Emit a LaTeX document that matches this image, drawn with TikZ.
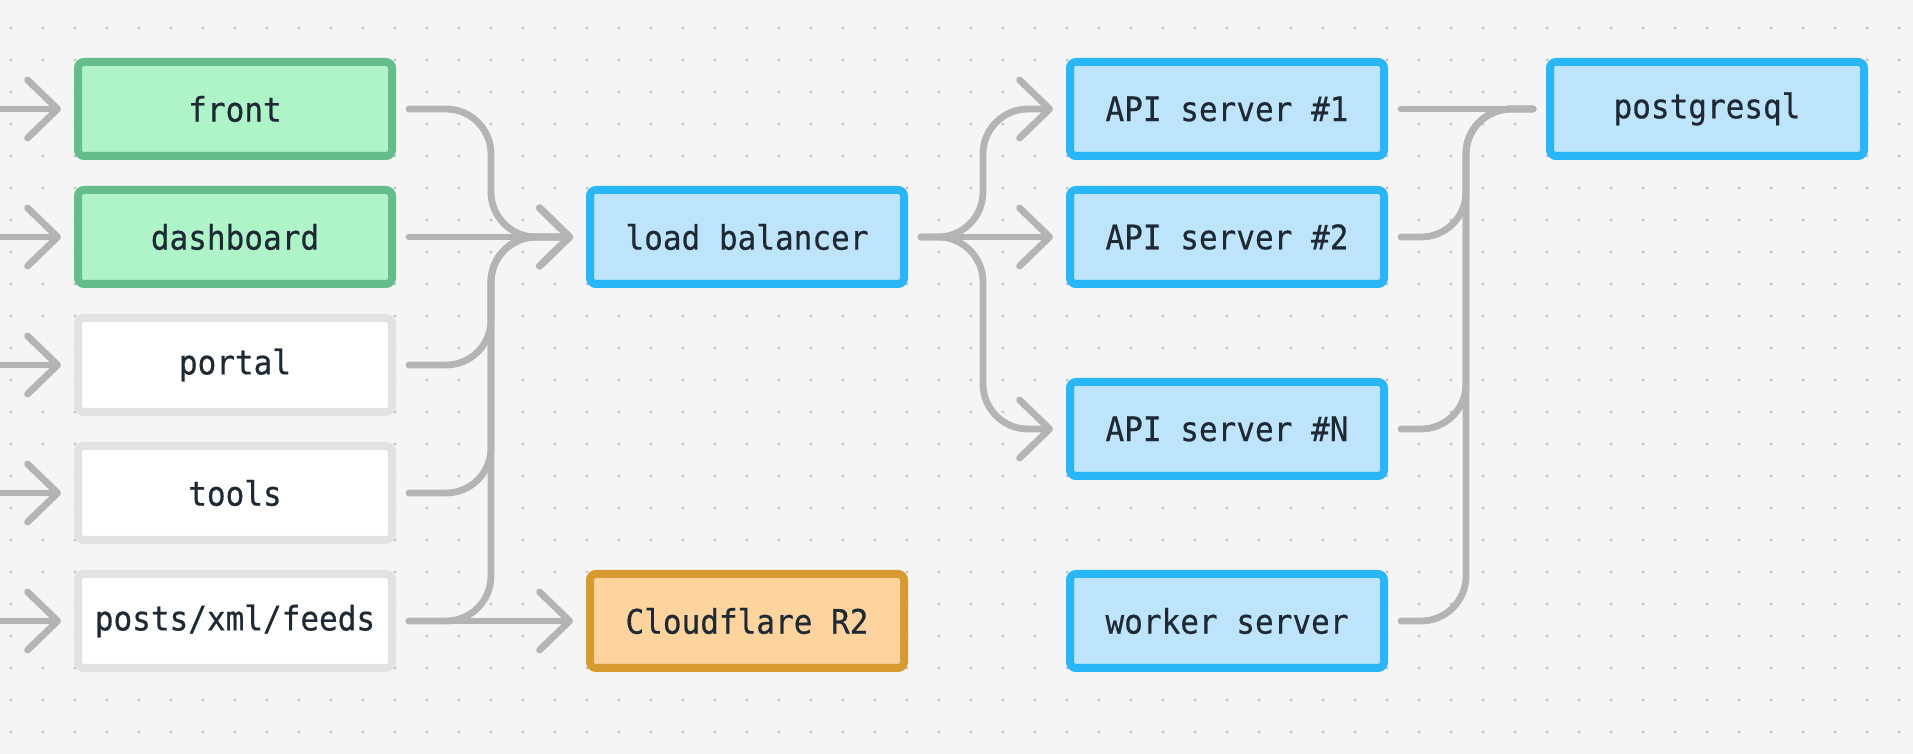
\documentclass[tikz,border=0pt]{standalone}
\usepackage{fontspec}
\usetikzlibrary{arrows.meta}
\newfontfamily\boxfont[FakeStretch=0.92, FakeBold=0.5]{DejaVu Sans Mono}

\definecolor{bgpaper}{HTML}{F5F5F5}
\definecolor{dotgray}{HTML}{C4C4C4}
\definecolor{wiregray}{HTML}{B4B4B4}
\definecolor{greenfill}{HTML}{AFF3C9}
\definecolor{greenedge}{HTML}{66BD8C}
\definecolor{bluefill}{HTML}{BDE4FB}
\definecolor{blueedge}{HTML}{29B6F6}
\definecolor{orangefill}{HTML}{FDD39E}
\definecolor{orangeedge}{HTML}{D69A30}
\definecolor{plainedge}{HTML}{E2E2E2}
\definecolor{inkdark}{HTML}{1E2933}

\begin{document}
\begin{tikzpicture}[
    >={Straight Barb[length=0.3cm, width=0.58cm, round]},
    box/.style={rectangle, rounded corners=0.06cm, line width=0.08cm,
        minimum width=3.14cm, minimum height=0.94cm, outer sep=0.17cm,
        font=\boxfont\fontsize{9.6}{11}\selectfont, text=inkdark},
    greenbox/.style={box, fill=greenfill, draw=greenedge},
    bluebox/.style={box, fill=bluefill, draw=blueedge},
    orangebox/.style={box, fill=orangefill, draw=orangeedge},
    plainbox/.style={box, fill=white, draw=plainedge},
    link/.style={draw=wiregray, line width=0.068cm, line cap=round, rounded corners=0.45cm},
]

%--- Coordinates ---
\def\colA{2.35}   % clients column
\def\colB{7.47}   % load balancer / storage column
\def\colC{12.27}  % servers column
\def\colD{17.07}  % database column
\def\rowA{-1.09}
\def\rowB{-2.37}
\def\rowC{-3.65}
\def\rowD{-4.93}
\def\rowE{-6.21}
\def\rowN{-4.29}  % last API server sits between rows

%--- Paper with dot grid ---
\useasboundingbox (0,0) rectangle (19.13,-7.54);
\fill[bgpaper] (0,0) rectangle (19.13,-7.54);
\foreach \i in {0,...,59}
  \foreach \j in {0,...,22}
    \fill[dotgray] (0.11+0.32*\i, -0.28-0.32*\j) circle (0.017);

%--- Clients ---
\node[greenbox] (front)     at (\colA, \rowA) {front};
\node[greenbox] (dashboard) at (\colA, \rowB) {dashboard};
\node[plainbox] (portal)    at (\colA, \rowC) {portal};
\node[plainbox] (tools)     at (\colA, \rowD) {tools};
\node[plainbox] (posts)     at (\colA, \rowE) {posts/xml/feeds};

%--- Middle column ---
\node[bluebox]   (lb)    at (\colB, \rowB) {load balancer};
\node[orangebox] (cloud) at (\colB, \rowE) {Cloudflare R2};

%--- Servers ---
\node[bluebox] (api1)   at (\colC, \rowA) {API server \#1};
\node[bluebox] (api2)   at (\colC, \rowB) {API server \#2};
\node[bluebox] (apiN)   at (\colC, \rowN) {API server \#N};
\node[bluebox] (worker) at (\colC, \rowE) {worker server};

%--- Database ---
\node[bluebox] (pg) at (\colD, \rowA) {postgresql};

%--- Incoming traffic from the left edge ---
\foreach \src/\y in {front/\rowA, dashboard/\rowB, portal/\rowC, tools/\rowD, posts/\rowE} {
  \coordinate (in-\src) at (0, \y);
  \draw[link, ->] (in-\src) -- (\src.west);
}

%--- Merge points ---
\coordinate (mergeL) at (4.91, \rowB);
\coordinate (splitR) at (9.83, \rowB);
\coordinate (mergeR) at (14.66, \rowA);

%--- Clients into load balancer ---
\draw[link, ->] (front.east) -| (mergeL) -- (lb.west);
\draw[link, ->] (dashboard.east) -- (lb.west);
\draw[link, ->] (portal.east) -| (mergeL) -- (lb.west);
\draw[link, ->] (tools.east) -| (mergeL) -- (lb.west);
\draw[link, ->] (posts.east) -| (mergeL) -- (lb.west);
\draw[link, ->] (posts.east) -- (cloud.west);

%--- Load balancer out to API servers ---
\draw[link, ->] (lb.east) -- (splitR) |- (api1.west);
\draw[link, ->] (lb.east) -- (api2.west);
\draw[link, ->] (lb.east) -- (splitR) |- (apiN.west);

%--- Servers into postgresql ---
\draw[link] (api1.east) -- (pg.west);
\draw[link] (api2.east) -| (mergeR) -- (pg.west);
\draw[link] (apiN.east) -| (mergeR) -- (pg.west);
\draw[link] (worker.east) -| (mergeR) -- (pg.west);

\end{tikzpicture}
\end{document}
